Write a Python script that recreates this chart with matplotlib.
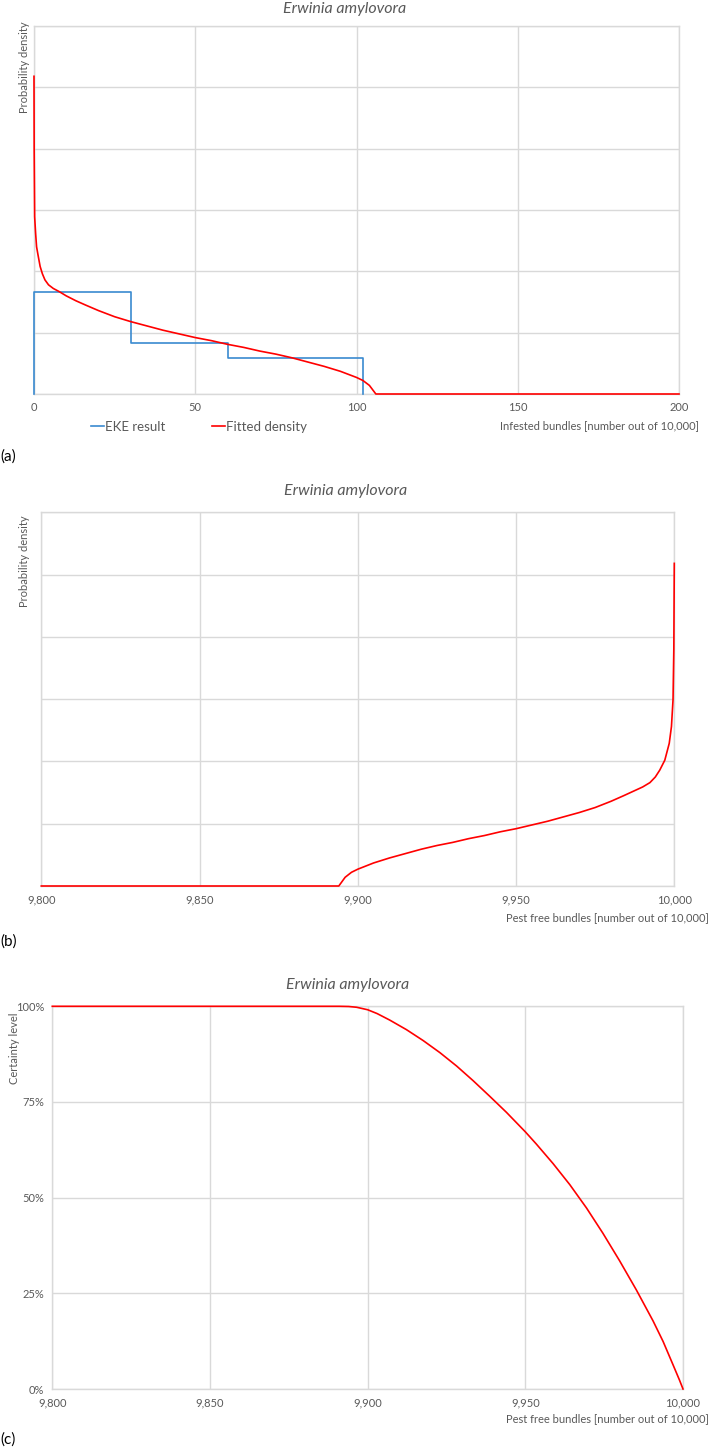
import numpy as np
import matplotlib
matplotlib.use("Agg")
import matplotlib.pyplot as plt

plt.rcParams['font.family'] = ['Lato', 'DejaVu Sans']

TITLE = "Erwinia amylovora"

# (a) EKE result: bin edges and densities
EKE_EDGES = [0, 30, 60, 102]
EKE_DENSITY = [0.01667, 0.00833, 0.00595]

# (a) fitted density, infested bundles
INFESTED = [0, 0.05, 0.2, 0.5, 0.8, 1.2, 1.9, 2.6, 3.4, 4.5, 6, 7.8, 10, 13, 16,
            20, 25, 30, 35, 40, 45, 50, 55, 60, 65, 70, 75, 80, 85, 90, 95, 98,
            100, 102, 104, 106, 200]
FIT_DENSITY = [0.0518, 0.040, 0.0289, 0.0262, 0.0240, 0.0228, 0.0208, 0.0196,
               0.0186, 0.0178, 0.0172, 0.0167, 0.0160, 0.0152, 0.0145, 0.0136,
               0.0126, 0.0118, 0.0111, 0.0104, 0.0098, 0.0092, 0.0087, 0.0081,
               0.0076, 0.0070, 0.0065, 0.0059, 0.0052, 0.0045, 0.0037, 0.0031,
               0.0027, 0.0022, 0.0014, 0.0, 0.0]

# (b) fitted density, pest free bundles
PEST_FREE_B = [9800, 9894, 9896, 9898, 9900, 9902, 9905, 9910, 9915, 9920, 9925,
               9930, 9935, 9940, 9945, 9950, 9955, 9960, 9965, 9970, 9975, 9980,
               9984, 9987, 9990, 9992.3, 9994, 9995.4, 9997.0, 9998.4, 9999.1,
               9999.6, 9999.85, 10000]
DENSITY_B = [0.0, 0.0, 0.0014, 0.0022, 0.0027, 0.0031, 0.0037, 0.0045, 0.0052,
             0.0059, 0.0065, 0.0070, 0.0076, 0.0081, 0.0087, 0.0092, 0.0098,
             0.0104, 0.0111, 0.0118, 0.0126, 0.0136, 0.0145, 0.0152, 0.0159,
             0.0166, 0.0175, 0.0186, 0.0202, 0.0229, 0.0256, 0.0299, 0.038,
             0.0518]

# (c) certainty level
PEST_FREE_C = [9800, 9891, 9894, 9896.5, 9900, 9903, 9907, 9912.3, 9917.6,
               9922.9, 9928.2, 9933.4, 9938.7, 9944, 9950, 9953.5, 9958.8,
               9964.1, 9969.4, 9974.6, 9979.9, 9985.2, 9990.5, 9993.7, 9996.8,
               9998.9, 10000]
CERTAINTY = [100, 100, 99.95, 99.75, 99.1, 98.1, 96.4, 93.9, 91.05, 87.9, 84.4,
             80.6, 76.5, 72.3, 67.2, 64.0, 58.9, 53.4, 47.3, 40.7, 33.5, 25.9,
             17.8, 12.4, 6.4, 2.3, 0]

RED = '#ff0000'
BLUE = '#3a8ad0'
GRID = '#d9d9d9'
TEXT = '#595959'

W, H = 709, 1450
fig = plt.figure(figsize=(W / 100, H / 100), dpi=100)


def px_axes(left, top, right, bottom):
    return fig.add_axes([left / W, 1 - bottom / H, (right - left) / W, (bottom - top) / H])


def style(ax):
    ax.grid(True, color=GRID, linewidth=1.0)
    ax.set_axisbelow(True)
    for s in ax.spines.values():
        s.set_color(GRID)
        s.set_linewidth(1.0)
    ax.tick_params(length=0, colors=TEXT, labelsize=8, pad=6)


def fig_text(x, y, s, **kw):
    fig.text(x / W, 1 - y / H, s, **kw)


line_kw = dict(lw=1.2, clip_on=False, zorder=4)

# ---- (a)
ax1 = px_axes(34, 26, 679, 394)
style(ax1)
ex = np.repeat(EKE_EDGES, 2)
ey = np.concatenate([[0], np.repeat(EKE_DENSITY, 2), [0]])
ax1.plot(ex, ey, color=BLUE, label='EKE result', **line_kw)
ax1.plot(INFESTED, FIT_DENSITY, color=RED, label='Fitted density', **line_kw)
ax1.set_xlim(0, 200)
ax1.set_ylim(0, 0.06)
ax1.set_xticks([0, 50, 100, 150, 200])
ax1.set_yticks(np.arange(0, 0.061, 0.01))
ax1.set_yticklabels([])
ax1.legend(loc='center left', bbox_to_anchor=(79 / W, 1 - 427 / H),
           bbox_transform=fig.transFigure, ncol=2, frameon=False,
           handlelength=1.0, handletextpad=0.1, columnspacing=3.5,
           fontsize=9.5, labelcolor=TEXT)
fig_text(345, 9, TITLE, ha='center', va='center', style='italic', fontsize=11.5, color=TEXT)
fig_text(24, 67, 'Probability density', ha='center', va='center', rotation=90, fontsize=8, color=TEXT)
fig_text(699, 426, 'Infested bundles [number out of 10,000]', ha='right', va='center', fontsize=8, color=TEXT)
fig_text(0, 457, '(a)', ha='left', va='center', fontsize=11, color='black')

# ---- (b)
ax2 = px_axes(41.3, 512.3, 674.3, 886)
style(ax2)
ax2.plot(PEST_FREE_B, DENSITY_B, color=RED, **line_kw)
ax2.set_xlim(9800, 10000)
ax2.set_ylim(0, 0.06)
ax2.set_xticks([9800, 9850, 9900, 9950, 10000])
ax2.set_xticklabels(['9,800', '9,850', '9,900', '9,950', '10,000'])
ax2.set_yticks(np.arange(0, 0.061, 0.01))
ax2.set_yticklabels([])
fig_text(346, 491, TITLE, ha='center', va='center', style='italic', fontsize=11.5, color=TEXT)
fig_text(24, 561, 'Probability density', ha='center', va='center', rotation=90, fontsize=8, color=TEXT)
fig_text(709, 918, 'Pest free bundles [number out of 10,000]', ha='right', va='center', fontsize=8, color=TEXT)
fig_text(0, 942, '(b)', ha='left', va='center', fontsize=11, color='black')

# ---- (c)
ax3 = px_axes(52.3, 1006.3, 683, 1389)
style(ax3)
ax3.plot(PEST_FREE_C, CERTAINTY, color=RED, **line_kw)
ax3.set_xlim(9800, 10000)
ax3.set_ylim(0, 100)
ax3.set_xticks([9800, 9850, 9900, 9950, 10000])
ax3.set_xticklabels(['9,800', '9,850', '9,900', '9,950', '10,000'])
ax3.set_yticks([0, 25, 50, 75, 100])
ax3.set_yticklabels(['0%', '25%', '50%', '75%', '100%'])
fig_text(348, 985, TITLE, ha='center', va='center', style='italic', fontsize=11.5, color=TEXT)
fig_text(15, 1048, 'Certainty level', ha='center', va='center', rotation=90, fontsize=8, color=TEXT)
fig_text(709, 1419, 'Pest free bundles [number out of 10,000]', ha='right', va='center', fontsize=8, color=TEXT)
fig_text(0, 1440, '(c)', ha='left', va='center', fontsize=11, color='black')

fig.savefig('out.png', dpi=100)
